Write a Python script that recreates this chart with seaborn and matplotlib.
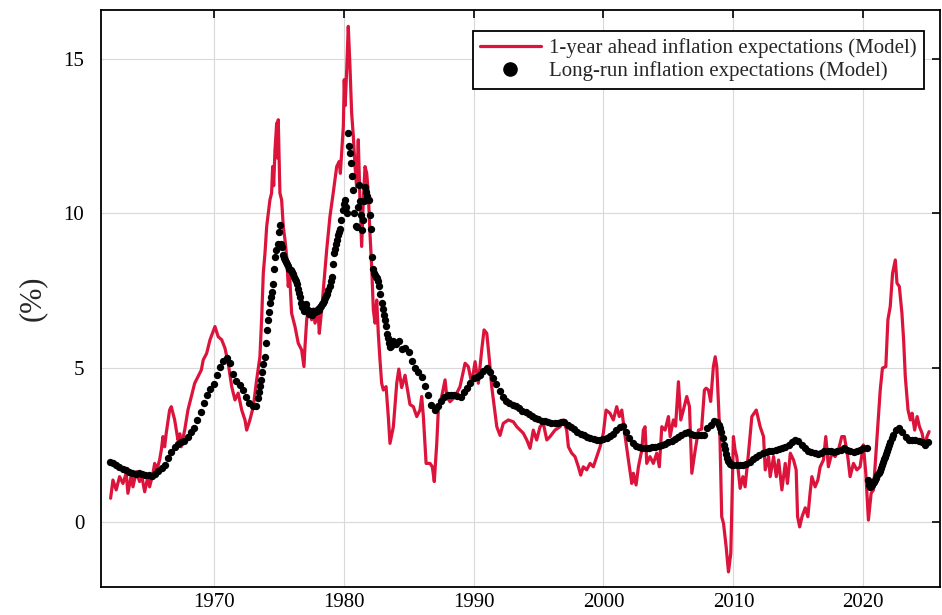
import matplotlib
matplotlib.use("Agg")
import matplotlib.pyplot as plt
from matplotlib.lines import Line2D
import seaborn as sns
import pandas as pd

# ---------------- data ----------------
red_years = [
    1962.07, 1962.25, 1962.50, 1962.76, 1963.02, 1963.27, 1963.40, 1963.66, 1963.79, 1964.04,
    1964.30, 1964.43, 1964.69, 1964.94, 1965.07, 1965.33, 1965.46, 1965.60, 1965.84, 1965.97,
    1966.10, 1966.23, 1966.35, 1966.61, 1966.74, 1967.00, 1967.25, 1967.40, 1967.50, 1967.77,
    1968.02, 1968.28, 1968.54, 1968.79, 1969.05, 1969.20, 1969.46, 1969.72, 1970.10, 1970.35,
    1970.62, 1970.87, 1971.12, 1971.39, 1971.64, 1971.89, 1972.16, 1972.41, 1972.54, 1972.79,
    1973.05, 1973.31, 1973.56, 1973.70, 1973.82, 1973.95, 1974.08, 1974.20, 1974.33, 1974.46,
    1974.54, 1974.62, 1974.72, 1974.85, 1974.90, 1974.97, 1975.10, 1975.23, 1975.36, 1975.49,
    1975.62, 1975.74, 1975.85, 1976.00, 1976.26, 1976.51, 1976.77, 1976.95, 1977.03, 1977.16,
    1977.28, 1977.41, 1977.54, 1977.67, 1977.80, 1978.05, 1978.13, 1978.31, 1978.44, 1978.70,
    1978.95, 1979.20, 1979.47, 1979.67, 1979.75, 1979.98, 1980.05, 1980.12, 1980.24, 1980.36,
    1980.49, 1980.62, 1980.75, 1980.88, 1981.00, 1981.13, 1981.26, 1981.39, 1981.52, 1981.65,
    1981.78, 1981.90, 1982.03, 1982.16, 1982.29, 1982.42, 1982.55, 1982.67, 1982.80, 1982.93,
    1983.06, 1983.27, 1983.44, 1983.57, 1983.83, 1984.09, 1984.25, 1984.47, 1984.73, 1985.11,
    1985.37, 1985.63, 1985.88, 1986.01, 1986.14, 1986.35, 1986.65, 1986.83, 1986.98, 1987.17,
    1987.29, 1987.55, 1987.81, 1987.94, 1988.19, 1988.58, 1988.96, 1989.35, 1989.60, 1989.86,
    1990.12, 1990.37, 1990.63, 1990.81, 1991.02, 1991.22, 1991.40, 1991.66, 1991.79, 1992.04,
    1992.29, 1992.68, 1993.06, 1993.33, 1993.83, 1994.10, 1994.35, 1994.60, 1994.86, 1995.12,
    1995.37, 1995.64, 1995.89, 1996.27, 1996.66, 1996.91, 1997.17, 1997.30, 1997.56, 1997.81,
    1998.07, 1998.25, 1998.45, 1998.71, 1998.97, 1999.22, 1999.48, 1999.74, 1999.99, 2000.20,
    2000.50, 2000.76, 2001.02, 2001.22, 2001.41, 2001.67, 2001.92, 2002.18, 2002.30, 2002.51,
    2002.69, 2002.95, 2003.07, 2003.20, 2003.33, 2003.58, 2003.84, 2004.10, 2004.30, 2004.49,
    2004.74, 2005.00, 2005.13, 2005.38, 2005.55, 2005.77, 2005.95, 2006.15, 2006.41, 2006.62,
    2006.80, 2007.06, 2007.31, 2007.55, 2007.77, 2007.90, 2008.08, 2008.25, 2008.46, 2008.60,
    2008.72, 2008.85, 2008.97, 2009.10, 2009.24, 2009.44, 2009.62, 2009.80, 2009.88, 2010.00,
    2010.13, 2010.26, 2010.52, 2010.73, 2010.90, 2011.16, 2011.42, 2011.76, 2012.06, 2012.32,
    2012.45, 2012.71, 2012.83, 2013.09, 2013.30, 2013.48, 2013.73, 2013.99, 2014.16, 2014.38,
    2014.63, 2014.83, 2014.94, 2015.10, 2015.28, 2015.53, 2015.73, 2015.90, 2016.04, 2016.29,
    2016.50, 2016.68, 2016.93, 2017.11, 2017.31, 2017.57, 2017.83, 2018.08, 2018.34, 2018.54,
    2018.80, 2018.98, 2019.24, 2019.50, 2019.75, 2020.00, 2020.19, 2020.39, 2020.60, 2020.78,
    2021.04, 2021.30, 2021.47, 2021.73, 2021.89, 2022.07, 2022.25, 2022.46, 2022.59, 2022.77,
    2022.97, 2023.10, 2023.23, 2023.44, 2023.62, 2023.75, 2023.95, 2024.14, 2024.32, 2024.52,
    2024.72, 2024.90, 2025.06,
]
red_values = [
    0.76, 1.35, 1.03, 1.46, 1.24, 1.57, 0.92, 1.51, 1.13, 1.62,
    1.30, 1.57, 0.97, 1.46, 1.13, 1.57, 1.89, 1.65, 2.00, 2.32,
    2.76, 2.43, 2.87, 3.62, 3.73, 3.30, 2.65, 2.85, 2.43, 2.97,
    3.62, 4.06, 4.49, 4.70, 4.92, 5.25, 5.46, 5.90, 6.33, 6.00,
    5.90, 5.63, 5.14, 4.38, 3.95, 4.17, 3.62, 3.30, 2.97, 3.30,
    3.73, 4.60, 5.35, 6.65, 8.06, 8.71, 9.57, 10.00, 10.44, 10.66,
    11.52, 10.90, 12.06, 12.93, 11.80, 13.04, 10.66, 10.44, 9.57, 9.14,
    8.60, 7.63, 8.00, 6.76, 6.33, 5.79, 5.57, 5.03, 5.68, 6.55,
    6.87, 6.76, 6.55, 6.90, 6.44, 6.76, 6.11, 6.87, 7.52, 8.82,
    9.90, 10.66, 11.52, 11.69, 11.30, 12.82, 14.34, 13.50, 14.66, 16.07,
    14.77, 13.26, 12.50, 11.52, 10.87, 12.39, 10.44, 8.93, 10.44, 11.52,
    11.30, 10.66, 9.36, 8.28, 6.87, 6.44, 7.19, 6.11, 5.25, 4.49,
    4.27, 4.38, 3.41, 2.54, 3.08, 4.49, 4.95, 4.35, 4.75, 3.80,
    3.73, 3.41, 3.62, 4.06, 3.41, 1.89, 1.89, 1.78, 1.30, 2.54,
    3.62, 4.06, 4.60, 4.06, 3.89, 4.06, 4.38, 5.14, 5.03, 4.49,
    5.19, 4.49, 5.57, 6.22, 6.11, 5.25, 4.38, 3.52, 3.08, 2.80,
    3.19, 3.30, 3.24, 3.08, 2.87, 2.65, 2.38, 2.97, 2.65, 3.08,
    3.19, 2.65, 2.76, 2.97, 3.08, 3.30, 2.97, 2.43, 2.22, 2.11,
    1.78, 1.51, 1.78, 1.68, 1.89, 1.78, 2.11, 2.43, 2.87, 3.62,
    3.52, 3.30, 3.73, 3.41, 3.62, 2.76, 2.00, 1.24, 1.57, 1.19,
    1.78, 2.32, 2.97, 3.08, 1.89, 2.11, 1.89, 2.22, 1.78, 3.08,
    2.97, 3.41, 2.76, 3.30, 3.10, 4.54, 3.30, 3.62, 4.06, 3.73,
    1.57, 2.32, 2.97, 3.00, 4.27, 4.33, 4.27, 3.90, 5.03, 5.35,
    5.03, 3.84, 2.65, 0.16, -0.06, -0.81, -1.63, -1.03, 0.48, 2.76,
    2.32, 2.11, 1.08, 1.46, 1.13, 2.22, 3.41, 3.62, 3.08, 2.76,
    1.68, 2.11, 1.46, 2.11, 1.46, 2.00, 1.03, 1.89, 1.24, 2.22,
    2.00, 1.68, 0.16, -0.17, 0.16, 0.45, 0.16, 0.92, 1.46, 1.13,
    1.35, 1.78, 2.00, 2.76, 1.78, 2.22, 2.11, 2.32, 2.76, 2.76,
    2.11, 1.46, 1.89, 1.68, 1.78, 2.49, 1.57, 0.05, 0.92, 1.03,
    2.65, 4.27, 4.98, 5.03, 6.55, 6.98, 8.06, 8.49, 7.74, 7.63,
    6.76, 5.90, 4.70, 3.62, 3.30, 3.52, 2.97, 3.41, 3.08, 2.87,
    2.43, 2.76, 2.92,
]

lr_years = [
    1962.00, 1962.25, 1962.50, 1962.75, 1963.00, 1963.25, 1963.50, 1963.75, 1964.00, 1964.25,
    1964.50, 1964.75, 1965.00, 1965.25, 1965.50, 1965.75, 1966.00, 1966.25, 1966.50, 1966.75,
    1967.00, 1967.25, 1967.50, 1967.75, 1968.00, 1968.25, 1968.50, 1968.75, 1969.00, 1969.25,
    1969.50, 1969.75, 1970.00, 1970.25, 1970.50, 1970.75, 1971.00, 1971.25, 1971.50, 1971.75,
    1972.00, 1972.25, 1972.50, 1972.75, 1973.00, 1973.25,
    1973.42, 1973.50, 1973.58, 1973.67, 1973.75, 1973.83, 1973.92, 1974.00, 1974.08, 1974.17,
    1974.25, 1974.33, 1974.42, 1974.50, 1974.58, 1974.67, 1974.75, 1974.83, 1974.92, 1975.00,
    1975.08, 1975.17, 1975.25, 1975.33, 1975.42, 1975.50, 1975.58, 1975.67, 1975.75, 1975.83,
    1975.92, 1976.00, 1976.08, 1976.17, 1976.25, 1976.33, 1976.42, 1976.50, 1976.58, 1976.67,
    1976.75, 1976.83, 1976.92, 1977.00, 1977.08, 1977.17, 1977.25, 1977.33, 1977.42, 1977.50,
    1977.58, 1977.67, 1977.75, 1977.83, 1977.92, 1978.00, 1978.08, 1978.17, 1978.25, 1978.33,
    1978.42, 1978.50, 1978.58, 1978.67, 1978.75, 1978.83, 1978.92, 1979.00, 1979.08, 1979.17,
    1979.25, 1979.33, 1979.42, 1979.50, 1979.58, 1979.67, 1979.75, 1979.83, 1979.92, 1980.00,
    1980.08, 1980.17, 1980.25, 1980.33, 1980.42, 1980.50, 1980.58, 1980.67, 1980.75, 1980.83,
    1980.92, 1981.00, 1981.08, 1981.17, 1981.25, 1981.33, 1981.42, 1981.50, 1981.58, 1981.67,
    1981.75, 1981.83, 1981.92, 1982.00, 1982.08, 1982.17, 1982.25, 1982.33, 1982.42, 1982.50,
    1982.58, 1982.67, 1982.75, 1982.83, 1982.92, 1983.00, 1983.08, 1983.17, 1983.25, 1983.33,
    1983.42, 1983.50, 1983.58, 1983.67, 1983.75, 1983.83, 1983.92,
    1984.00, 1984.25, 1984.50, 1984.75, 1985.00, 1985.25, 1985.50, 1985.75, 1986.00, 1986.25,
    1986.50, 1986.75, 1987.00, 1987.25, 1987.50, 1987.75, 1988.00, 1988.25, 1988.50, 1988.75,
    1989.00, 1989.25, 1989.50, 1989.75, 1990.00, 1990.25, 1990.50, 1990.75, 1991.00, 1991.25,
    1991.50, 1991.75, 1992.00, 1992.25, 1992.50, 1992.75, 1993.00, 1993.25, 1993.50, 1993.75,
    1994.00, 1994.25, 1994.50, 1994.75, 1995.00, 1995.25, 1995.50, 1995.75, 1996.00, 1996.25,
    1996.50, 1996.75, 1997.00, 1997.25, 1997.50, 1997.75, 1998.00, 1998.25, 1998.50, 1998.75,
    1999.00, 1999.25, 1999.50, 1999.75, 2000.00, 2000.25, 2000.50, 2000.75, 2001.00, 2001.25,
    2001.50, 2001.75, 2002.00, 2002.25, 2002.50, 2002.75, 2003.00, 2003.25, 2003.50, 2003.75,
    2004.00, 2004.25, 2004.50, 2004.75, 2005.00, 2005.25, 2005.50, 2005.75, 2006.00, 2006.25,
    2006.50, 2006.75, 2007.00, 2007.25, 2007.50, 2007.75, 2008.00, 2008.25, 2008.50, 2008.75,
    2008.92, 2009.00, 2009.08, 2009.17, 2009.25, 2009.33, 2009.42, 2009.50, 2009.58, 2009.67,
    2009.75, 2009.83, 2009.92,
    2010.00, 2010.25, 2010.50, 2010.75, 2011.00, 2011.25, 2011.50, 2011.75, 2012.00, 2012.25,
    2012.50, 2012.75, 2013.00, 2013.25, 2013.50, 2013.75, 2014.00, 2014.25, 2014.50, 2014.75,
    2015.00, 2015.25, 2015.50, 2015.75, 2016.00, 2016.25, 2016.50, 2016.75, 2017.00, 2017.25,
    2017.50, 2017.75, 2018.00, 2018.25, 2018.50, 2018.75, 2019.00, 2019.25, 2019.50, 2019.75,
    2020.00, 2020.25,
    2020.33, 2020.42, 2020.50, 2020.58, 2020.67, 2020.75, 2020.83, 2020.92, 2021.00, 2021.08,
    2021.17, 2021.25, 2021.33, 2021.42, 2021.50, 2021.58, 2021.67, 2021.75, 2021.83, 2021.92,
    2022.00, 2022.08, 2022.17, 2022.25,
    2022.50, 2022.75, 2023.00, 2023.25, 2023.50, 2023.75, 2024.00, 2024.25, 2024.50, 2024.75,
    2025.00,
]
lr_values = [
    1.95, 1.90, 1.85, 1.78, 1.72, 1.66, 1.60, 1.57, 1.56, 1.58,
    1.55, 1.52, 1.50, 1.47, 1.55, 1.65, 1.75, 1.85, 2.05, 2.25,
    2.43, 2.52, 2.57, 2.62, 2.75, 2.90, 3.05, 3.30, 3.55, 3.85,
    4.10, 4.30, 4.45, 4.75, 5.03, 5.20, 5.30, 5.15, 4.80, 4.55,
    4.43, 4.28, 4.05, 3.85, 3.75, 3.75,
    4.00, 4.20, 4.40, 4.60, 4.85, 5.10, 5.35, 5.80, 6.22, 6.55,
    6.80, 7.09, 7.30, 7.45, 7.70, 8.20, 8.60, 8.80, 9.00, 9.40,
    9.63, 9.00, 8.90, 8.65, 8.55, 8.50, 8.42, 8.35, 8.28, 8.20,
    8.15, 8.10, 8.02, 7.95, 7.88, 7.80, 7.70, 7.55, 7.42, 7.30,
    7.10, 6.95, 6.85, 6.95, 7.05, 6.90, 6.82, 6.75, 6.85, 6.80,
    6.72, 6.78, 6.85, 6.80, 6.85, 6.90, 6.88, 6.95, 7.00, 7.05,
    7.10, 7.15, 7.25, 7.32, 7.40, 7.50, 7.65, 7.80, 7.95, 8.35,
    8.70, 8.85, 9.00, 9.15, 9.30, 9.40, 9.50, 9.80, 10.10, 10.30,
    10.45, 10.20, 10.00, 12.60, 12.20, 11.95, 11.65, 11.20, 10.77, 10.00,
    9.60, 9.55, 10.20, 10.93, 10.40, 9.95, 9.47, 9.80, 10.40, 10.87,
    10.70, 10.55, 10.44, 9.95, 9.50, 8.60, 8.20, 8.06, 8.00, 7.95,
    7.90, 7.80, 7.65, 7.40, 7.10, 6.90, 6.70, 6.55, 6.35, 6.10,
    5.95, 5.80, 5.68, 5.70, 5.75, 5.85, 5.80,
    5.75, 5.85, 5.60, 5.65, 5.50, 5.20, 4.98, 4.85, 4.70, 4.40,
    4.10, 3.80, 3.62, 3.75, 3.90, 4.05, 4.10, 4.10, 4.10, 4.08,
    4.06, 4.20, 4.33, 4.50, 4.65, 4.70, 4.76, 4.88, 4.98, 4.85,
    4.65, 4.45, 4.25, 4.05, 3.90, 3.85, 3.80, 3.75, 3.70, 3.60,
    3.55, 3.48, 3.42, 3.37, 3.32, 3.28, 3.25, 3.22, 3.20, 3.19,
    3.19, 3.22, 3.24, 3.15, 3.07, 3.00, 2.92, 2.86, 2.80, 2.75,
    2.71, 2.68, 2.66, 2.65, 2.68, 2.73, 2.77, 2.85, 2.97, 3.08,
    3.10, 2.90, 2.70, 2.55, 2.47, 2.43, 2.40, 2.38, 2.40, 2.42,
    2.43, 2.46, 2.50, 2.53, 2.57, 2.62, 2.68, 2.75, 2.82, 2.88,
    2.92, 2.86, 2.82, 2.80, 2.81, 2.82, 3.05, 3.15, 3.25, 3.22,
    3.15, 3.05, 2.90, 2.70, 2.50, 2.35, 2.20, 2.08, 1.98, 1.92,
    1.88, 1.86, 1.85,
    1.85, 1.84, 1.84, 1.85, 1.86, 1.93, 2.02, 2.10, 2.17, 2.22,
    2.26, 2.28, 2.30, 2.32, 2.35, 2.38, 2.41, 2.50, 2.60, 2.65,
    2.62, 2.50, 2.38, 2.30, 2.26, 2.22, 2.18, 2.22, 2.28, 2.30,
    2.28, 2.27, 2.30, 2.34, 2.38, 2.33, 2.28, 2.26, 2.28, 2.32,
    2.38, 2.38,
    1.35, 1.20, 1.13, 1.15, 1.20, 1.25, 1.30, 1.35, 1.42, 1.50,
    1.58, 1.65, 1.75, 1.85, 1.95, 2.03, 2.11, 2.20, 2.30, 2.40,
    2.50, 2.60, 2.72, 2.82,
    2.98, 3.03, 2.92, 2.75, 2.65, 2.65, 2.65, 2.62, 2.59, 2.50,
    2.60,
]

x_ticks = [1970, 1980, 1990, 2000, 2010, 2020]
y_ticks = [0, 5, 10, 15]
label_red = "1-year ahead inflation expectations (Model)"
label_black = "Long-run inflation expectations (Model)"
y_label = "(%)"

# ---------------- plotting ----------------
sns.set_style("white")
plt.rcParams["font.family"] = ["Liberation Serif", "DejaVu Serif"]

fig = plt.figure(figsize=(9.42, 6.15), dpi=100)
ax = fig.add_axes([101 / 942, 1 - 587 / 615, (940 - 101) / 942, (587 - 10) / 615])

red_df = pd.DataFrame({"year": red_years, "value": red_values})
lr_df = pd.DataFrame({"year": lr_years, "value": lr_values})

sns.lineplot(data=red_df, x="year", y="value", ax=ax, color="#DC143C",
             linewidth=2.3, estimator=None, sort=False, zorder=3)
sns.scatterplot(data=lr_df, x="year", y="value", ax=ax, color="black",
                s=28, linewidth=0, zorder=4)

ax.set_xlim(1961.33, 2025.9)
ax.set_ylim(-2.12, 16.6)
ax.set_xticks(x_ticks)
ax.set_yticks(y_ticks)
ax.set_xticklabels([str(t) for t in x_ticks])
ax.set_yticklabels([str(t) for t in y_ticks])
ax.grid(True, color="#d9d9d9", linewidth=0.8)
ax.set_axisbelow(True)
ax.tick_params(direction="in", length=6, width=1.2, labelsize=15,
               top=True, right=True, colors="black")
ax.tick_params(axis="x", pad=4)
ax.tick_params(axis="y", pad=12)
for sp in ax.spines.values():
    sp.set_visible(True)
    sp.set_color("black")
    sp.set_linewidth(1.3)

ax.set_xlabel("")
ax.set_ylabel(y_label, fontsize=22, labelpad=12)

handles = [
    Line2D([0], [0], color="#DC143C", linewidth=2.3),
    Line2D([0], [0], color="black", marker="o", linestyle="none", markersize=9.5),
]
leg = ax.legend(handles, [label_red, label_black], loc="upper right",
                bbox_to_anchor=(924 / 942, 1 - 31 / 615), bbox_transform=fig.transFigure,
                fontsize=15, frameon=True, fancybox=False, framealpha=1,
                edgecolor="black", handlelength=2.9, handletextpad=0.4,
                borderpad=0.36, labelspacing=0.14, borderaxespad=0)
leg.get_frame().set_linewidth(1.3)

fig.savefig("out.png", dpi=100)
